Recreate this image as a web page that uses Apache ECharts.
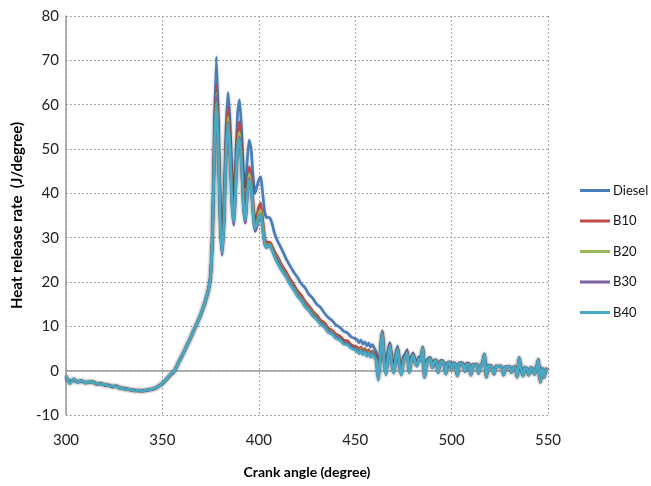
<!DOCTYPE html>
<html>
<head>
<meta charset="utf-8">
<script src="https://cdn.jsdelivr.net/npm/echarts@6/dist/echarts.min.js"></script>
<style>
html,body{margin:0;padding:0;background:#fff;}
#chart{width:651px;height:486px;}
</style>
</head>
<body>
<div id="chart"></div>
<script>
// Crank angle (degree)
const angles = [
300,302,304,306,308,310,312,314,316,318,320,322,324,326,328,330,332,334,336,338,340,342,344,346,348,350,352,354,356,
357,358,359,360,361,362,363,364,365,366,367,368,369,370,371,372,373,374,375,
376,377,378,379,380,381,382,383,384,385,386,387,388,389,390,391,392,393,394,395,396,397,398,399,400,401,402,403,404,405,406,407,408,409,410,
412,414,416,418,420,422,424,426,428,430,432,434,436,438,440,442,444,446,448,450,
451,452,453,454,455,456,457,458,459,460,461,462,463,464,465,466,467,468,469,470,
471,472,473,474,475,476,477,478,479,480,481,482,483,484,485,486,487,488,489,490,
491,492,493,494,495,496,497,498,499,500,501,502,503,504,505,506,507,508,509,510,
511,512,513,514,515,516,517,518,519,520,521,522,523,524,525,526,527,528,529,530,
531,532,533,534,535,536,537,538,539,540,541,542,543,544,545,546,547,548,549,550
];

const seriesNames = ['Diesel','B10','B20','B30','B40'];

const diesel = [
-1.3,-2.6,-2.0,-2.5,-2.3,-2.7,-2.6,-2.5,-3.0,-2.9,-3.2,-3.3,-3.6,-3.5,-3.9,-4.0,-4.2,-4.3,-4.5,-4.5,-4.6,-4.4,-4.3,-4.0,-3.6,-2.9,-2.0,-1.0,-0.2,
0.6,1.5,2.4,3.2,4.1,5.0,6.0,6.8,7.8,8.8,9.8,10.7,11.7,12.8,14.0,15.3,16.8,18.5,21.5,
32,55,70.8,57,38,29,38,54,62.8,57,45,39.2,47,58,61.1,55,45,41.4,47.5,52,50,44,40,41.5,43,43.7,40,36,34.5,34.6,34.3,33,31.2,30,29,
27.3,25.4,23.8,22.3,21.1,19.6,18.7,17.2,16.3,15.0,14.3,13.0,12.0,11.3,10.3,9.8,8.9,8.5,7.6,7.2,
7.0,6.3,6.9,6.0,6.5,5.6,6.2,5.3,5.9,5.0,
4.0,-1.0,4.5,9.0,3.5,0.4,4.3,6.4,2.8,0.6,
3.6,5.6,2.1,0.0,3.1,3.8,4.8,0.2,2.7,4.0,
2.6,1.5,3.1,2.7,5.4,-1.2,2.0,2.8,3.0,0.9,
2.3,2.5,-0.2,2.1,2.3,1.8,-0.6,1.8,2.0,0.4,
1.8,1.6,-1.0,1.7,1.8,1.5,0.0,1.7,1.6,-0.9,
1.4,1.3,1.5,-0.5,1.1,1.7,3.8,-1.4,1.1,1.2,
0.7,-0.7,1.1,1.0,1.1,0.9,-0.9,0.9,0.8,1.0,
-0.3,0.7,0.9,-1.4,3.0,0.6,-1.1,0.8,0.5,-0.9,
0.7,0.6,-0.7,0.5,2.6,-2.5,0.6,-1.4,0.4,0.3
];

const b10 = [
-1.5,-2.4,-2.2,-2.6,-2.2,-2.8,-2.5,-2.6,-3.1,-2.8,-3.3,-3.2,-3.7,-3.5,-3.8,-4.1,-4.2,-4.4,-4.4,-4.6,-4.5,-4.4,-4.2,-4.0,-3.5,-2.9,-2.0,-1.1,-0.2,
0.6,1.5,2.4,3.2,4.1,5.0,6.0,6.8,7.8,8.8,9.8,10.7,11.7,12.8,14.0,15.3,16.8,18.5,21.5,
31,52,64.5,53,35,27.5,36,51,59.4,53,41,36,44,53.5,56.1,50,40,36.5,42,46,44,38,34,35,37,37.8,34,30,28.8,29,28.8,28,27,26.2,25.5,
23.7,22.4,20.8,19.5,18.0,17.0,15.6,14.6,13.4,12.5,11.4,10.8,9.6,9.1,8.2,7.8,6.9,6.7,5.8,5.4,
5.3,4.7,5.3,4.4,5.0,4.0,4.7,3.8,4.4,3.7,
2.9,-1.6,3.6,8.8,2.5,-0.5,3.5,6.0,1.9,-0.3,
2.8,5.1,1.3,-0.7,2.5,3.3,4.3,-0.3,2.2,3.6,
2.2,1.2,2.8,2.4,5.2,-1.4,1.8,2.5,2.7,0.7,
2.1,2.3,-0.4,1.9,2.1,1.6,-0.7,1.7,1.9,0.3,
1.7,1.5,-1.1,1.6,1.7,1.4,-0.1,1.6,1.5,-0.9,
1.4,1.3,1.5,-0.5,1.1,1.7,3.7,-1.4,1.1,1.2,
0.6,-0.8,1.0,0.9,1.0,0.8,-1.0,0.8,0.7,0.9,
-0.4,0.6,0.8,-1.5,2.9,0.5,-1.2,0.7,0.4,-1.0,
0.6,0.5,-0.8,0.4,2.5,-2.6,0.5,-1.5,0.3,0.2
];

const b20 = [
-1.4,-2.7,-2.1,-2.4,-2.4,-2.6,-2.7,-2.4,-3.0,-3.0,-3.1,-3.4,-3.5,-3.6,-3.9,-3.9,-4.3,-4.3,-4.5,-4.4,-4.6,-4.3,-4.3,-3.9,-3.6,-2.8,-2.1,-1.0,-0.1,
0.6,1.5,2.4,3.2,4.1,5.0,6.0,6.8,7.8,8.8,9.8,10.7,11.7,12.8,14.0,15.3,16.8,18.5,21.5,
31,51,62.5,52,34.5,26.8,35,49.5,57.2,51,39.5,34.5,42.5,51.5,53.8,48,38.5,35,40.5,44.4,42.5,36.5,32.5,33.5,35.5,36.2,33,29.3,28.2,28.5,28.3,27.5,26.5,25.7,25,
23.1,21.8,20.2,18.9,17.4,16.4,15.0,14.1,12.9,12.0,10.9,10.3,9.1,8.7,7.8,7.3,6.4,6.2,5.4,5.0,
4.9,4.3,4.9,4.1,4.6,3.6,4.3,3.4,4.1,3.4,
2.6,-1.9,3.3,8.6,2.3,-0.7,3.3,5.8,1.7,-0.4,
2.7,5.0,1.2,-0.8,2.4,3.1,4.1,-0.4,2.1,3.5,
2.1,1.1,2.7,2.3,5.1,-1.5,1.7,2.5,2.7,0.7,
2.1,2.3,-0.4,1.9,2.1,1.6,-0.7,1.7,1.9,0.3,
1.6,1.4,-1.2,1.5,1.6,1.3,-0.2,1.5,1.4,-1.0,
1.3,1.2,1.4,-0.6,1.0,1.6,3.6,-1.5,1.0,1.1,
0.6,-0.8,1.0,0.9,1.0,0.8,-1.0,0.8,0.7,0.9,
-0.4,0.6,0.8,-1.5,2.9,0.5,-1.2,0.7,0.4,-1.0,
0.6,0.5,-0.8,0.4,2.5,-2.6,0.5,-1.5,0.3,0.2
];

const b30 = [
-1.2,-2.8,-1.9,-2.6,-2.3,-2.7,-2.5,-2.6,-2.9,-3.0,-3.2,-3.3,-3.6,-3.4,-4.0,-4.0,-4.1,-4.4,-4.5,-4.5,-4.5,-4.4,-4.2,-4.0,-3.5,-2.9,-1.9,-1.0,-0.2,
0.6,1.5,2.4,3.2,4.1,5.0,6.0,6.8,7.8,8.8,9.8,10.7,11.7,12.8,14.0,15.3,16.8,18.5,21.5,
30.5,50.5,62,51,33.5,26,34,48.5,56,50,38,32.8,41,50.5,52.6,47,37,33.3,39.5,43.2,41.5,35.5,31.4,32.5,34.5,35.2,32,28.6,27.7,28.2,28,27.2,26.2,25.3,24.6,
22.8,21.5,19.9,18.6,17.1,16.1,14.7,13.8,12.6,11.8,10.7,10.1,8.9,8.5,7.6,7.2,6.3,6.1,5.3,4.9,
4.6,4.0,4.6,3.8,4.4,3.4,4.1,3.2,3.9,3.2,
2.4,-2.1,3.2,8.5,2.1,-0.9,3.1,5.7,1.6,-0.5,
2.5,4.8,1.0,-1.0,2.2,3.0,4.0,-0.5,2.0,3.4,
2.0,1.0,2.6,2.2,5.0,-1.6,1.6,2.4,2.6,0.6,
2.0,2.2,-0.5,1.8,2.0,1.5,-0.8,1.6,1.8,0.2,
1.6,1.4,-1.2,1.5,1.6,1.3,-0.2,1.5,1.4,-1.0,
1.3,1.2,1.4,-0.6,1.0,1.6,3.6,-1.5,1.0,1.1,
0.6,-0.8,1.0,0.9,1.0,0.8,-1.0,0.8,0.7,0.9,
-0.4,0.6,0.8,-1.5,2.9,0.5,-1.2,0.7,0.4,-1.0,
0.6,0.5,-0.8,0.4,2.5,-2.6,0.5,-1.5,0.3,0.2
];

const b40 = [
-1.1,-3.0,-1.8,-2.7,-2.2,-2.8,-2.4,-2.7,-2.9,-3.1,-3.1,-3.4,-3.5,-3.6,-3.9,-4.1,-4.2,-4.3,-4.6,-4.4,-4.6,-4.3,-4.3,-3.9,-3.6,-2.8,-2.0,-0.9,-0.1,
0.6,1.5,2.4,3.2,4.1,5.0,6.0,6.8,7.8,8.8,9.8,10.7,11.7,12.8,14.0,15.3,16.8,18.5,21.5,
30.5,50,60.5,50.5,33.5,26.6,34,48,55.8,50,38.5,33.5,41,50.3,52.4,47,37.5,34,39.5,43,41.5,36,32,33,34.5,35.1,32,28.8,27.8,28.2,28,27,25.8,24.8,24,
22.5,21.2,19.6,18.3,16.8,15.8,14.4,13.5,12.3,11.5,10.4,9.8,8.6,8.2,7.3,6.9,6.0,5.8,5.0,4.6,
4.4,3.8,4.4,3.6,4.2,3.2,3.9,3.0,3.7,3.0,
2.2,-2.2,3.0,8.3,2.0,-1.0,3.0,5.6,1.5,-0.6,
2.5,4.8,1.0,-1.0,2.2,3.0,4.0,-0.5,2.0,3.4,
2.0,1.0,2.6,2.2,5.0,-1.6,1.6,2.4,2.6,0.6,
2.0,2.2,-0.5,1.8,2.0,1.5,-0.8,1.6,1.8,0.2,
1.6,1.4,-1.2,1.5,1.6,1.3,-0.2,1.5,1.4,-1.0,
1.3,1.2,1.4,-0.6,1.0,1.6,3.6,-1.5,1.0,1.1,
0.6,-0.8,1.0,0.9,1.0,0.8,-1.0,0.8,0.7,0.9,
-0.4,0.6,0.8,-1.5,2.9,0.5,-1.2,0.7,0.4,-1.0,
0.6,0.5,-0.8,0.4,2.5,-2.6,0.5,-1.5,0.3,0.2
];

const colors = ['#4A7EBB','#BE4B48','#98B954','#7D60A0','#46AAC5'];
const allValues = [diesel, b10, b20, b30, b40];

const font = 'Lato, "Open Sans", sans-serif';

const chart = echarts.init(document.getElementById('chart'), null, {renderer: 'canvas'});
chart.setOption({
  animation: false,
  backgroundColor: '#ffffff',
  color: colors,
  grid: {left: 66, right: 103, top: 16, bottom: 71, containLabel: false},
  legend: {
    orient: 'vertical',
    left: 580,
    top: 183,
    padding: 0,
    icon: 'rect',
    itemWidth: 30,
    itemHeight: 3,
    itemGap: 15.5,
    textStyle: {fontFamily: font, fontSize: 13, color: '#111', lineHeight: 15, overflow: 'none', width: 60, padding: [0,0,0,-2]},
    data: seriesNames
  },
  xAxis: {
    type: 'value',
    min: 300, max: 550, interval: 50,
    name: 'Crank angle (degree)',
    nameLocation: 'middle',
    nameGap: 50,
    nameTextStyle: {fontFamily: font, fontSize: 14, fontWeight: 'bold', color: '#000'},
    axisLine: {show: false, onZero: false},
    axisTick: {show: false},
    axisLabel: {fontFamily: font, fontSize: 15, color: '#222', margin: 18},
    splitLine: {show: true, lineStyle: {color: '#a6a6a6', type: [2, 2], width: 1}}
  },
  yAxis: {
    type: 'value',
    min: -10, max: 80, interval: 10,
    name: 'Heat release rate  (J/degree)',
    nameLocation: 'middle',
    nameGap: 41,
    nameTextStyle: {fontFamily: font, fontSize: 15, fontWeight: 'bold', color: '#000'},
    axisLine: {show: true, lineStyle: {color: '#9a9a9a', width: 1.5}},
    axisTick: {show: false},
    axisLabel: {fontFamily: font, fontSize: 15, color: '#222', margin: 7},
    splitLine: {show: true, lineStyle: {color: '#a6a6a6', type: [2, 2], width: 1}}
  },
  series: seriesNames.map((name, k) => {
    const s = {
      name: name,
      type: 'line',
      z: 2 + k,
      symbol: 'none',
      smooth: 0.2,
      lineStyle: {width: 2.7, color: colors[k], shadowColor: 'rgba(0,0,0,0.18)', shadowBlur: 3},
      itemStyle: {color: colors[k]},
      data: angles.map((a, i) => [a, allValues[k][i]])
    };
    if (k === 0) {
      s.markLine = {
        silent: true,
        symbol: 'none',
        label: {show: false},
        lineStyle: {color: '#9a9a9a', type: 'solid', width: 1.5, shadowBlur: 0},
        data: [{yAxis: 0}]
      };
    }
    return s;
  })
});
</script>
</body>
</html>
